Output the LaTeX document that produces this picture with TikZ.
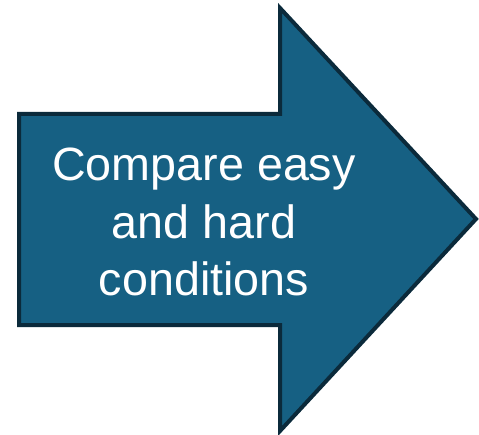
\documentclass[tikz,border=0pt]{standalone}
\usepackage{fontspec}
\setmainfont{Liberation Sans}
\usepackage{tikz}
\usetikzlibrary{
arrows.meta,
positioning
}
\definecolor{arrowfill}{HTML}{166083}
\definecolor{arrowline}{HTML}{0B2A3B}

\begin{document}
\begin{tikzpicture}[
x=0.75pt, y=-0.75pt,
bigarrow/.style={
draw=arrowline,
fill=arrowfill,
line width=3pt,
line join=miter
},
label/.style={
text=white,
align=center,
font=\fontsize{35}{43}\selectfont
}
]

\useasboundingbox (0,0) rectangle (479,435);

\draw[bigarrow] (19,114) -- (280,114) -- (280,8) -- (476,219)
  -- (280,431) -- (280,325) -- (19,325) -- cycle;

\node[label] (task) at (204,222) {Compare easy\\and hard\\conditions};

\end{tikzpicture}
\end{document}
